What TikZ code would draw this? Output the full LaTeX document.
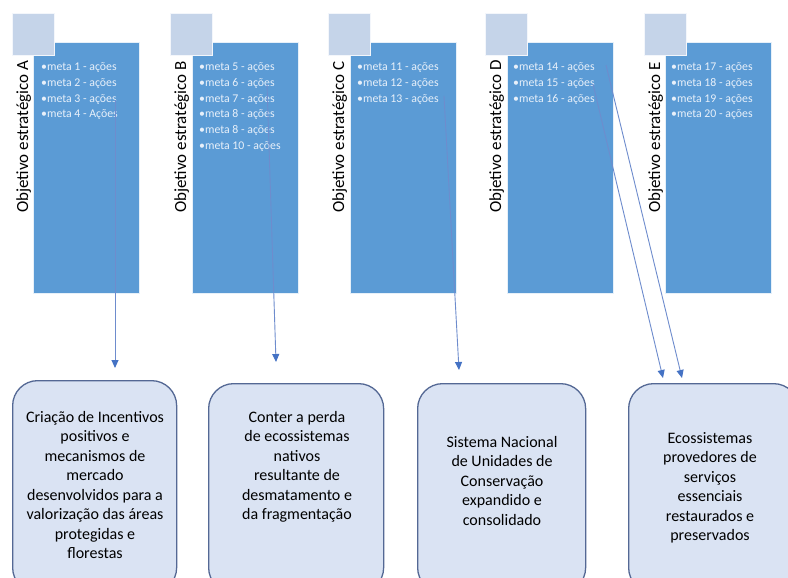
\documentclass[tikz,border=0pt]{standalone}
\usepackage{fontspec}
\setmainfont{Carlito}
\usetikzlibrary{arrows.meta}
\definecolor{rectblue}{RGB}{91,155,213}
\definecolor{sqblue}{RGB}{197,212,233}
\definecolor{boxfill}{RGB}{218,227,243}
\definecolor{boxline}{RGB}{84,104,148}
\definecolor{arrline}{RGB}{110,140,205}
\definecolor{arrhead}{RGB}{68,114,196}
\definecolor{itemtxt}{RGB}{232,240,250}
\tikzset{
  colrect/.style={draw=white!85!rectblue, line width=0.6pt, fill=rectblue, inner sep=0pt, minimum width=106pt, minimum height=251pt, anchor=north west},
  sqbox/.style={draw=white!80!sqblue, line width=0.6pt, fill=sqblue, inner sep=0pt, minimum width=42pt, minimum height=42pt, anchor=north west},
  objtitle/.style={rotate=90, anchor=base west, inner sep=0pt, font=\fontsize{17}{20}\selectfont, text=black},
  items/.style={anchor=base west, inner sep=0pt, align=left, text=itemtxt, font=\fontsize{11.8}{15.8}\selectfont},
  resbox/.style={draw=boxline, line width=1.3pt, fill=boxfill, rounded corners=25pt, inner sep=0pt, anchor=north west},
  restext/.style={anchor=base, inner sep=0pt, align=center, text=black, font=\fontsize{16}{19.5}\selectfont},
  conn/.style={draw=arrline, line width=0.9pt, -{Triangle[length=8pt,width=7pt,fill=arrhead,color=arrhead]}}
}
\begin{document}
\begin{tikzpicture}[x=1pt,y=-1pt]
\clip (0,0) rectangle (788,578);
\fill[white] (0,0) rectangle (788,578);
% columns
\node[colrect] (ra) at (33,42) {};
\node[colrect] (rb) at (192,42) {};
\node[colrect] (rc) at (350,42) {};
\node[colrect] (rd) at (507,42) {};
\node[colrect] (re) at (665,42) {};
\node[sqbox] (sa) at (12,13) {};
\node[sqbox] (sb) at (170,13) {};
\node[sqbox] (sc) at (328,13) {};
\node[sqbox] (sd) at (485,13) {};
\node[sqbox] (se) at (644,13) {};
\node[objtitle] (ta) at (28,213) {Objetivo estratégico A};
\node[objtitle] (tb) at (186,213) {Objetivo estratégico B};
\node[objtitle] (tc) at (344,213) {Objetivo estratégico C};
\node[objtitle] (td) at (501,213) {Objetivo estratégico D};
\node[objtitle] (te) at (660,213) {Objetivo estratégico E};
% items (base anchor = baseline of last line)
\node[items] (ia) at (41,117.9) {•meta 1 - ações\\•meta 2 - ações\\•meta 3 - ações\\•meta 4 - Ações};
\node[items] (ib) at (199,149.5) {•meta 5 - ações\\•meta 6 - ações\\•meta 7 - ações\\•meta 8 - ações\\•meta 8 - ações\\•meta 10 - ações};
\node[items] (ic) at (357,102.1) {•meta 11 - ações\\•meta 12 - ações\\•meta 13 - ações};
\node[items] (id) at (513,102.1) {•meta 14 - ações\\•meta 15 - ações\\•meta 16 - ações};
\node[items] (ie) at (671,117.9) {•meta 17 - ações\\•meta 18 - ações\\•meta 19 - ações\\•meta 20 - ações};
% result boxes
\node[resbox, minimum width=164pt, minimum height=212pt] (ba) at (12,380) {};
\node[resbox, minimum width=175pt, minimum height=209pt] (bb) at (208,383) {};
\node[resbox, minimum width=168pt, minimum height=209pt] (bc) at (417,383) {};
\node[resbox, minimum width=170pt, minimum height=209pt] (bd) at (628,383) {};
\node[restext] (xa) at (95,558.5) {Criação de Incentivos\\positivos e\\mecanismos de\\mercado\\desenvolvidos para a\\valorização das áreas\\protegidas e\\florestas};
\node[restext] (xb) at (297,519.5) {Conter a perda\\de ecossistemas\\nativos\\resultante de\\desmatamento e\\da fragmentação};
\node[restext] (xc) at (502,525) {Sistema Nacional\\de Unidades de\\Conservação\\expandido e\\consolidado};
\node[restext] (xd) at (710,540.5) {Ecossistemas\\provedores de\\serviços\\essenciais\\restaurados e\\preservados};
% connectors
\coordinate (a1) at (115,100);
\coordinate (a2) at (115,368);
\coordinate (b1) at (267,84);
\coordinate (b2) at (276,362);
\coordinate (c1) at (444,96);
\coordinate (c2) at (459,370);
\coordinate (d1) at (606,65);
\coordinate (d2) at (682,378);
\coordinate (e1) at (593,84);
\coordinate (e2) at (663,378);
\draw[conn] (a1) -- (a2);
\draw[conn] (b1) -- (b2);
\draw[conn] (c1) -- (c2);
\draw[conn] (d1) -- (d2);
\draw[conn] (e1) -- (e2);
\end{tikzpicture}
\end{document}
